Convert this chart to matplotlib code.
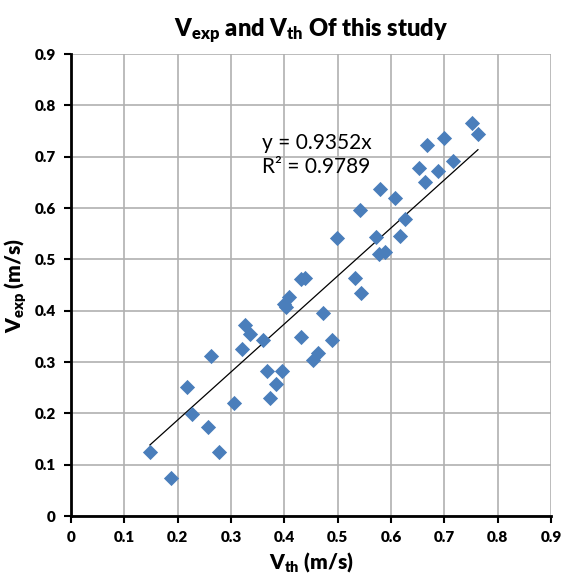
import matplotlib
matplotlib.use("Agg")
import matplotlib.pyplot as plt
import numpy as np

# V_th vs V_exp
v_th = [0.148, 0.188, 0.217, 0.226, 0.257, 0.262, 0.278, 0.305, 0.321, 0.326,
        0.335, 0.360, 0.368, 0.374, 0.385, 0.396, 0.399, 0.403, 0.409, 0.431,
        0.438, 0.431, 0.454, 0.463, 0.4725, 0.489, 0.4995, 0.533, 0.544, 0.541,
        0.5725, 0.577, 0.588, 0.579, 0.607, 0.616, 0.6255, 0.652, 0.664, 0.667,
        0.689, 0.6985, 0.717, 0.752, 0.763]
v_exp = [0.125, 0.075, 0.252, 0.198, 0.174, 0.311, 0.125, 0.220, 0.325, 0.373,
         0.354, 0.343, 0.283, 0.229, 0.257, 0.283, 0.413, 0.407, 0.427, 0.462,
         0.463, 0.349, 0.303, 0.318, 0.395, 0.343, 0.542, 0.464, 0.434, 0.596,
         0.543, 0.511, 0.514, 0.637, 0.619, 0.546, 0.578, 0.677, 0.650, 0.723,
         0.673, 0.737, 0.692, 0.766, 0.744]
slope = 0.9352
r2 = 0.9789
ticks = [0, 0.1, 0.2, 0.3, 0.4, 0.5, 0.6, 0.7, 0.8, 0.9]
tick_labels = ['0', '0.1', '0.2', '0.3', '0.4', '0.5', '0.6', '0.7', '0.8', '0.9']

plt.rcParams['font.family'] = ['Lato', 'DejaVu Sans']
plt.rcParams['mathtext.fontset'] = 'custom'
plt.rcParams['mathtext.rm'] = 'Lato'
plt.rcParams['mathtext.bf'] = 'Lato:heavy'

fig = plt.figure(figsize=(5.61, 5.77), dpi=100)
ax = fig.add_axes([71 / 561, 1 - 516 / 577, 480 / 561, 462 / 577])

ax.scatter(v_th, v_exp, marker='D', s=60, color='#4A7EBB', zorder=3, linewidths=0)
xl = np.array([min(v_th), max(v_th)])
ax.plot(xl, slope * xl, color='black', lw=0.9, zorder=2)

ax.text(0.358, 0.669, f'y = {slope}x\nR² = {r2}', fontsize=15, linespacing=1.2)

ax.set_xlim(0, 0.9)
ax.set_ylim(0, 0.9)
ax.set_xticks(ticks)
ax.set_yticks(ticks)
ax.set_xticklabels(tick_labels, fontweight='heavy', fontsize=11)
ax.set_yticklabels(tick_labels, fontweight='heavy', fontsize=11)
ax.grid(True, color='#B0B0B0', lw=1.2)
ax.set_axisbelow(True)
for s in ['top', 'right']:
    ax.spines[s].set_visible(False)
for s in ['left', 'bottom']:
    ax.spines[s].set_linewidth(2)
ax.tick_params(direction='out', length=5, width=1.5, pad=6)

ax.set_title(r'$\mathbf{V_{exp}}$ and $\mathbf{V_{th}}$ Of this study',
             fontweight='heavy', fontsize=17, pad=12)
ax.set_xlabel(r'$\mathbf{V_{th}}$ (m/s)', fontweight='heavy', fontsize=15, labelpad=4)
ax.set_ylabel(r'$\mathbf{V_{exp}}$ (m/s)', fontweight='heavy', fontsize=15, labelpad=4)

fig.savefig('out.png', dpi=100)
